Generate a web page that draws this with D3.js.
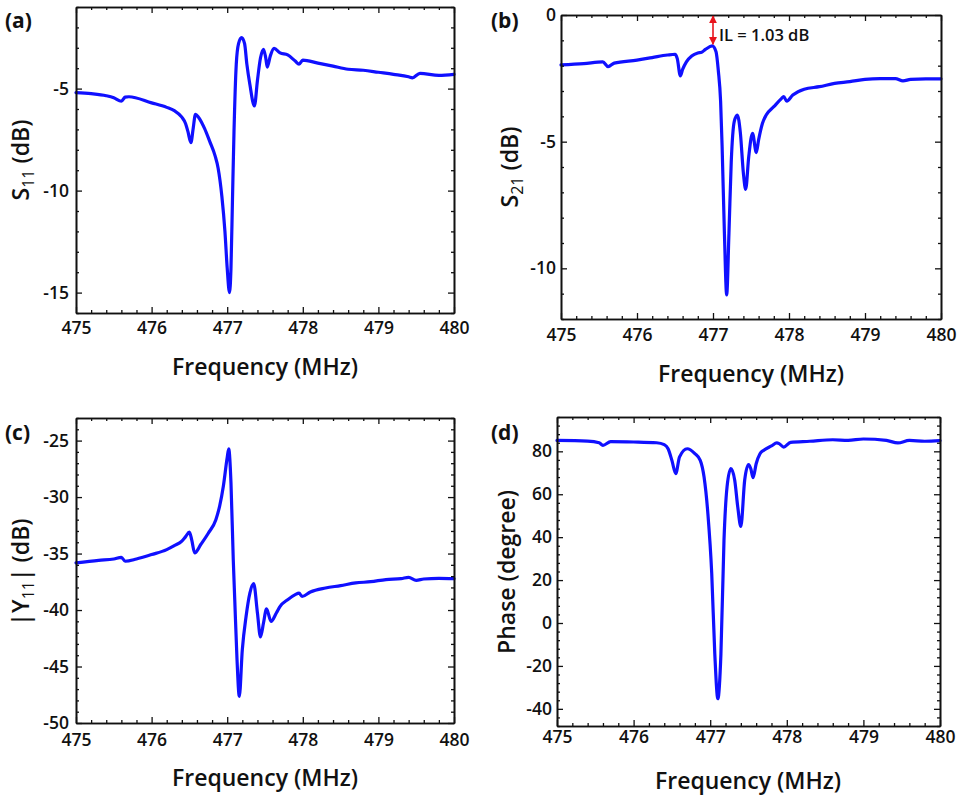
<!DOCTYPE html>
<html>
<head>
<meta charset="utf-8">
<script src="https://cdn.jsdelivr.net/npm/d3@7/dist/d3.min.js"></script>
<style>
  html, body { margin: 0; padding: 0; background: #fff; }
  svg { display: block; }
  .tk text { font-family: "Open Sans", "Noto Sans", sans-serif; font-weight: 600; font-size: 17.5px; fill: #111; }
  .ttl { font-family: "Open Sans", "Noto Sans", sans-serif; font-weight: 600; font-size: 23px; fill: #111; }
  .lbl { font-family: "Open Sans", "Noto Sans", sans-serif; font-weight: 700; font-size: 21px; fill: #111; }
  .ann { font-family: "Open Sans", "Noto Sans", sans-serif; font-weight: 600; font-size: 16.5px; fill: #111; }
</style>
</head>
<body>
<svg id="chart" width="958" height="798"></svg>
<script>
// ---------------- data ----------------
const freqTicks = [475, 476, 477, 478, 479, 480];

// (a) S11 (dB)
const freqA = [475, 475.2, 475.4, 475.5, 475.6, 475.65, 475.7, 476.0, 476.2, 476.3, 476.4, 476.45, 476.48, 476.52, 476.55, 476.58, 476.62, 476.7, 476.77, 476.84, 476.88, 476.93, 476.97, 477.0, 477.03, 477.05, 477.07, 477.09, 477.12, 477.15, 477.19, 477.23, 477.26, 477.3, 477.36, 477.4, 477.44, 477.48, 477.51, 477.53, 477.57, 477.62, 477.7, 477.8, 477.9, 477.95, 478.0, 478.2, 478.4, 478.6, 478.8, 479.0, 479.2, 479.4, 479.45, 479.55, 479.8, 480];
const s11 = [-5.2, -5.25, -5.35, -5.45, -5.62, -5.42, -5.4, -5.7, -5.92, -6.08, -6.4, -6.72, -7.1, -7.65, -6.95, -6.26, -6.4, -6.95, -7.6, -8.3, -8.9, -10.3, -12.0, -13.8, -15.0, -13.8, -10.4, -7.1, -3.8, -2.8, -2.5, -2.8, -3.8, -4.8, -5.85, -4.6, -3.5, -3.07, -3.5, -3.95, -3.4, -3.03, -3.25, -3.35, -3.65, -3.8, -3.6, -3.75, -3.9, -4.05, -4.1, -4.2, -4.3, -4.42, -4.47, -4.25, -4.35, -4.3];
const s11Ticks = [-15, -10, -5];

// (b) S21 (dB)
const freqB = [475, 475.3, 475.55, 475.62, 475.7, 476.0, 476.2, 476.4, 476.5, 476.53, 476.57, 476.6, 476.65, 476.72, 476.8, 476.85, 476.9, 476.99, 477.04, 477.07, 477.1, 477.12, 477.15, 477.18, 477.21, 477.24, 477.28, 477.32, 477.36, 477.4, 477.43, 477.47, 477.52, 477.57, 477.6, 477.65, 477.7, 477.8, 477.9, 477.93, 477.97, 478.05, 478.2, 478.4, 478.6, 478.8, 479.0, 479.2, 479.4, 479.5, 479.6, 479.8, 480];
const s21 = [-1.97, -1.92, -1.85, -2.04, -1.9, -1.78, -1.68, -1.58, -1.55, -1.72, -2.4, -2.15, -1.85, -1.62, -1.5, -1.47, -1.36, -1.22, -1.45, -2.2, -3.4, -5.2, -8.6, -11.05, -8.6, -5.8, -4.2, -3.95, -4.65, -6.25, -6.88, -5.6, -4.67, -5.43, -4.93, -4.28, -3.95, -3.62, -3.3, -3.22, -3.4, -3.16, -2.93, -2.83, -2.7, -2.63, -2.54, -2.51, -2.51, -2.6, -2.54, -2.52, -2.52];
const s21Ticks = [-10, -5, 0];
const ilFreq = 477.0;
const ilRange = [0, -1.15];
const ilText = "IL = 1.03 dB";

// (c) |Y11| (dB)
const freqC = [475, 475.3, 475.5, 475.6, 475.65, 475.8, 476.0, 476.2, 476.3, 476.4, 476.45, 476.5, 476.53, 476.57, 476.65, 476.75, 476.85, 476.9, 476.95, 477.0, 477.02, 477.05, 477.08, 477.1, 477.13, 477.16, 477.2, 477.25, 477.3, 477.35, 477.4, 477.44, 477.48, 477.52, 477.58, 477.65, 477.7, 477.8, 477.9, 477.95, 477.99, 478.1, 478.3, 478.5, 478.7, 478.9, 479.1, 479.3, 479.4, 479.5, 479.6, 479.8, 480];
const y11 = [-35.83, -35.6, -35.48, -35.33, -35.68, -35.48, -35.09, -34.65, -34.3, -33.9, -33.5, -33.1, -33.77, -34.95, -34.2, -33.2, -32.0, -30.8, -29.0, -26.5, -25.74, -28.75, -35.5, -39.1, -44.4, -47.64, -43.5, -40.55, -38.5, -37.66, -40.26, -42.38, -41.15, -39.9, -41.0, -40.26, -39.67, -39.08, -38.64, -38.5, -38.8, -38.4, -38.05, -37.84, -37.6, -37.49, -37.3, -37.22, -37.1, -37.37, -37.25, -37.19, -37.22];
const y11Ticks = [-50, -45, -40, -35, -30, -25];

// (d) Phase (degree)
const freqD = [475, 475.4, 475.55, 475.6, 475.7, 476.0, 476.3, 476.4, 476.45, 476.5, 476.55, 476.6, 476.7, 476.8, 476.87, 476.92, 476.97, 477.02, 477.06, 477.1, 477.14, 477.18, 477.22, 477.27, 477.32, 477.36, 477.4, 477.45, 477.5, 477.53, 477.56, 477.6, 477.65, 477.7, 477.8, 477.87, 477.9, 477.96, 478.05, 478.3, 478.6, 478.8, 479.0, 479.3, 479.45, 479.6, 479.8, 480];
const phase = [85.1, 84.8, 84.0, 82.8, 84.5, 84.35, 84.0, 83.1, 81.2, 75.8, 69.6, 77.4, 81.2, 78.9, 75.8, 68.0, 50.9, 23.0, -14.4, -35.3, -14.4, 38.5, 63.4, 71.9, 66.5, 54.0, 45.0, 66.5, 73.8, 71.9, 67.7, 74.2, 78.9, 80.5, 82.5, 83.9, 83.6, 82.0, 84.2, 84.7, 85.4, 85.1, 85.75, 85.1, 83.9, 85.1, 84.7, 85.0];
const phaseTicks = [-40, -20, 0, 20, 40, 60, 80];

// ---------------- drawing ----------------
const svg = d3.select("#chart");
svg.append("rect").attr("width", 958).attr("height", 798).attr("fill", "#fff");

const panels = [
  { freq: freqA, vals: s11, ticks: s11Ticks, dom: [-16, -1], minorStep: 1,
    box: { x0: 76, x1: 454, y0: 7, y1: 313 }, padX: 9, padY: 7,
    label: "(a)", lab: [5, 28], xt: [265, 375], yt: [29, 160] },
  { freq: freqB, vals: s21, ticks: s21Ticks, dom: [-12, 0], minorStep: 1,
    box: { x0: 561, x1: 941, y0: 15, y1: 319 }, padX: 10, padY: 5,
    label: "(b)", lab: [491, 28], xt: [751, 382], yt: [518, 167] },
  { freq: freqC, vals: y11, ticks: y11Ticks, dom: [-50, -23], minorStep: 1,
    box: { x0: 76, x1: 454, y0: 418, y1: 723 }, padX: 11, padY: 7,
    label: "(c)", lab: [5, 440], xt: [265, 786], yt: [29, 572] },
  { freq: freqD, vals: phase, ticks: phaseTicks, dom: [-48, 96], minorStep: 4,
    box: { x0: 557, x1: 940, y0: 417, y1: 726 }, padX: 5, padY: 5,
    label: "(d)", lab: [491, 440], xt: [748, 789], yt: [515, 572] }
];

const xMinor = d3.range(475, 480.0001, 0.2).map(v => +v.toFixed(1)).filter(v => !freqTicks.includes(v));

panels.forEach((p, i) => {
  const b = p.box;
  const x = d3.scaleLinear().domain([475, 480]).range([b.x0, b.x1]);
  const y = d3.scaleLinear().domain(p.dom).range([b.y1, b.y0]);
  const yMinor = d3.range(Math.ceil(p.dom[0]), p.dom[1] + 0.0001, p.minorStep).filter(v => !p.ticks.includes(v));
  const g = svg.append("g");

  // line
  const pts = p.freq.map((f, k) => [f, p.vals[k]]);
  g.append("path").datum(pts)
    .attr("fill", "none").attr("stroke", "#1010ff").attr("stroke-width", 3.2)
    .attr("stroke-linejoin", "round").attr("stroke-linecap", "round")
    .attr("d", d3.line().x(d => x(d[0])).y(d => y(d[1])).curve(d3.curveMonotoneX));

  const fmt = d => String(d);
  // bottom
  g.append("g").attr("class", "tk").attr("transform", `translate(0,${b.y1})`)
    .call(d3.axisBottom(x).tickValues(freqTicks).tickFormat(fmt).tickSizeInner(-6).tickSizeOuter(0).tickPadding(p.padX));
  g.append("g").attr("transform", `translate(0,${b.y1})`)
    .call(d3.axisBottom(x).tickValues(xMinor).tickFormat("").tickSizeInner(-3).tickSizeOuter(0));
  // top
  g.append("g").attr("transform", `translate(0,${b.y0})`)
    .call(d3.axisTop(x).tickValues(freqTicks).tickFormat("").tickSizeInner(-6).tickSizeOuter(0));
  g.append("g").attr("transform", `translate(0,${b.y0})`)
    .call(d3.axisTop(x).tickValues(xMinor).tickFormat("").tickSizeInner(-3).tickSizeOuter(0));
  // left
  g.append("g").attr("class", "tk").attr("transform", `translate(${b.x0},0)`)
    .call(d3.axisLeft(y).tickValues(p.ticks).tickFormat(fmt).tickSizeInner(-6).tickSizeOuter(0).tickPadding(p.padY));
  g.append("g").attr("transform", `translate(${b.x0},0)`)
    .call(d3.axisLeft(y).tickValues(yMinor).tickFormat("").tickSizeInner(-3).tickSizeOuter(0));
  // right
  g.append("g").attr("transform", `translate(${b.x1},0)`)
    .call(d3.axisRight(y).tickValues(p.ticks).tickFormat("").tickSizeInner(-6).tickSizeOuter(0));
  g.append("g").attr("transform", `translate(${b.x1},0)`)
    .call(d3.axisRight(y).tickValues(yMinor).tickFormat("").tickSizeInner(-3).tickSizeOuter(0));

  g.selectAll(".domain").attr("stroke", "#111").attr("stroke-width", 1.6);
  g.selectAll(".tick line").attr("stroke", "#111").attr("stroke-width", 1.3);

  // panel label
  svg.append("text").attr("class", "lbl").attr("x", p.lab[0]).attr("y", p.lab[1]).text(p.label);

  // x title
  svg.append("text").attr("class", "ttl").attr("x", p.xt[0]).attr("y", p.xt[1])
    .attr("text-anchor", "middle").text("Frequency (MHz)");

  // y title
  const yt = svg.append("text").attr("class", "ttl").attr("text-anchor", "middle")
    .attr("transform", `translate(${p.yt[0]},${p.yt[1]}) rotate(-90)`);
  if (p.label === "(a)" || p.label === "(b)") {
    yt.append("tspan").text("S");
    yt.append("tspan").attr("font-size", "16px").attr("font-weight", 400).attr("dy", 5).text(p.label === "(a)" ? "11" : "21");
    yt.append("tspan").attr("dy", -5).text(" (dB)");
  } else if (p.label === "(c)") {
    yt.append("tspan").text("|Y");
    yt.append("tspan").attr("font-size", "16px").attr("font-weight", 400).attr("dy", 5).text("11");
    yt.append("tspan").attr("dy", -5).text("| (dB)");
  } else {
    yt.text("Phase (degree)");
  }

  // IL annotation
  if (p.label === "(b)") {
    const defs = svg.append("defs");
    defs.append("marker").attr("id", "ah").attr("viewBox", "0 0 10 10")
      .attr("refX", 9).attr("refY", 5).attr("markerWidth", 5).attr("markerHeight", 5)
      .attr("orient", "auto-start-reverse")
      .append("path").attr("d", "M0,0 L10,5 L0,10 z").attr("fill", "#e8141c");
    g.append("line")
      .attr("x1", x(ilFreq)).attr("x2", x(ilFreq))
      .attr("y1", y(ilRange[0]) + 1).attr("y2", y(ilRange[1]))
      .attr("stroke", "#e8141c").attr("stroke-width", 1.6)
      .attr("marker-start", "url(#ah)").attr("marker-end", "url(#ah)");
    g.append("text").attr("class", "ann")
      .attr("x", x(ilFreq) + 6).attr("y", y(-1.0) + 0.5)
      .text(ilText);
  }
});
</script>
</body>
</html>
